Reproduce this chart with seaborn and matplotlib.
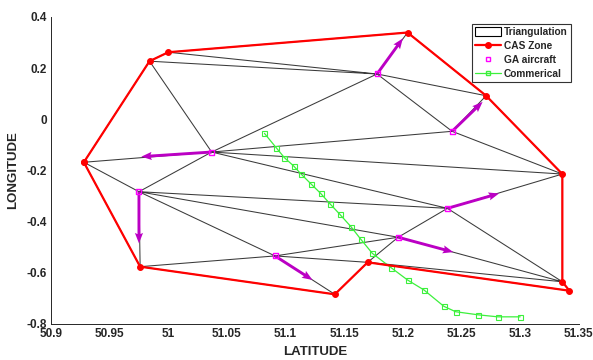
import matplotlib
matplotlib.use("Agg")
import matplotlib.pyplot as plt
import matplotlib.tri as mtri
from matplotlib.lines import Line2D
from matplotlib.patches import Patch
import seaborn as sns
import pandas as pd

# ---------------- data ----------------
# CAS zone boundary vertices (closed polygon)
cas_lat = [50.928, 50.984, 51.000, 51.204, 51.271, 51.336, 51.336, 51.342, 51.170, 51.142, 50.976]
cas_lon = [-0.168, 0.227, 0.262, 0.339, 0.092, -0.214, -0.635, -0.670, -0.559, -0.684, -0.576]

# GA aircraft positions and heading vectors
ga_lat = [51.037, 50.975, 51.091, 51.196, 51.238, 51.242, 51.178]
ga_lon = [-0.128, -0.283, -0.534, -0.461, -0.348, -0.047, 0.177]
ga_dlat = [-0.060, 0.000, 0.032, 0.047, 0.044, 0.026, 0.022]
ga_dlon = [-0.018, -0.202, -0.094, -0.058, 0.058, 0.115, 0.139]

# Commercial track
com_lat = [51.082, 51.092, 51.099, 51.107, 51.113, 51.122, 51.130, 51.138, 51.146, 51.156,
           51.164, 51.174, 51.190, 51.204, 51.218, 51.235, 51.245, 51.264, 51.281, 51.300]
com_lon = [-0.055, -0.111, -0.150, -0.183, -0.213, -0.254, -0.290, -0.331, -0.370, -0.421,
           -0.468, -0.524, -0.580, -0.628, -0.667, -0.731, -0.752, -0.764, -0.772, -0.772]

# triangulation connectivity (indices into CAS vertices followed by GA positions)
triangles = [(0, 1, 11), (1, 2, 17), (1, 11, 17), (2, 3, 17), (3, 4, 17), (17, 4, 16),
             (11, 17, 16), (16, 4, 5), (11, 16, 5), (11, 5, 15), (0, 11, 12), (11, 12, 15),
             (0, 12, 10), (12, 10, 13), (12, 13, 14), (12, 14, 15), (14, 15, 6), (15, 5, 6),
             (10, 9, 13), (13, 9, 8), (13, 8, 14), (8, 14, 6), (8, 6, 7)]

x_ticks = [50.9, 50.95, 51.0, 51.05, 51.1, 51.15, 51.2, 51.25, 51.3, 51.35]
x_tick_labels = ["50.9", "50.95", "51", "51.05", "51.1", "51.15", "51.2", "51.25", "51.3", "51.35"]
y_ticks = [-0.8, -0.6, -0.4, -0.2, 0.0, 0.2, 0.4]
y_tick_labels = ["-0.8", "-0.6", "-0.4", "-0.2", "0", "0.2", "0.4"]

legend_labels = ["Triangulation", "CAS Zone", "GA aircraft", "Commerical"]

# ---------------- style ----------------
sns.set_style("white")
plt.rcParams["font.family"] = ["Liberation Sans", "DejaVu Sans"]
plt.rcParams["font.weight"] = "bold"

RED = "#ff0000"
MAG = "#ff00ff"
ARROW = "#bb00c4"
GREEN = "#3cf03c"
TRI = "#3a3a3a"

fig = plt.figure(figsize=(5.93, 3.60), dpi=100)
ax = fig.add_axes([0.086, 0.1, 0.890, 0.853])

# triangulation
tri = mtri.Triangulation(cas_lat + ga_lat, cas_lon + ga_lon, triangles)
ax.triplot(tri, color=TRI, lw=0.75, zorder=1)

# CAS zone polygon
cas_df = pd.DataFrame({"lat": cas_lat + cas_lat[:1], "lon": cas_lon + cas_lon[:1]})
sns.lineplot(data=cas_df, x="lat", y="lon", sort=False, estimator=None, color=RED, lw=1.6,
             marker="o", markersize=4.2, markeredgecolor=RED, ax=ax, zorder=3)

# commercial track
com_df = pd.DataFrame({"lat": com_lat, "lon": com_lon})
sns.lineplot(data=com_df, x="lat", y="lon", sort=False, estimator=None, color=GREEN, lw=0.9,
             marker="s", markersize=3.6, markerfacecolor="none", markeredgecolor=GREEN,
             markeredgewidth=0.8, ax=ax, zorder=2)

# GA aircraft headings
ax.quiver(ga_lat, ga_lon, ga_dlat, ga_dlon, angles="xy", scale_units="xy", scale=1,
          color=ARROW, width=0.0055, headwidth=2.8, headlength=3.6, headaxislength=3.2, zorder=4)

# GA aircraft positions
ga_df = pd.DataFrame({"lat": ga_lat, "lon": ga_lon})
sns.scatterplot(data=ga_df, x="lat", y="lon", marker="s", s=13, facecolors="none",
                edgecolor=MAG, linewidth=1.0, ax=ax, zorder=5)

# axes
ax.set_xlim(50.9, 51.35)
ax.set_ylim(-0.8, 0.4)
ax.set_xticks(x_ticks)
ax.set_xticklabels(x_tick_labels)
ax.set_yticks(y_ticks)
ax.set_yticklabels(y_tick_labels)
ax.tick_params(direction="in", length=3.5, width=0.7, labelsize=8.5, pad=3, colors="#262626")
for lab in ax.get_xticklabels() + ax.get_yticklabels():
    lab.set_fontweight("bold")
ax.spines["top"].set_visible(False)
ax.spines["right"].set_visible(False)
for s in ("left", "bottom"):
    ax.spines[s].set_color("#262626")
    ax.spines[s].set_linewidth(0.7)
ax.set_xlabel("LATITUDE", fontsize=9.5, fontweight="bold", labelpad=4)
ax.set_ylabel("LONGITUDE", fontsize=9.5, fontweight="bold", labelpad=5)

# legend
handles = [
    Patch(facecolor="white", edgecolor="black", linewidth=0.8),
    Line2D([], [], color=RED, lw=1.6, marker="o", markersize=4),
    Line2D([], [], color=MAG, lw=0, marker="s", markersize=3.2, markerfacecolor="none", markeredgewidth=1.0),
    Line2D([], [], color=GREEN, lw=0.9, marker="s", markersize=3.2, markerfacecolor="none"),
]
leg = ax.legend(handles, legend_labels, loc="upper right", bbox_to_anchor=(0.985, 0.977),
                borderaxespad=0, fontsize=7.3, frameon=True, fancybox=False, framealpha=1,
                edgecolor="#333333", handlelength=2.5, handleheight=0.9, handletextpad=0.35,
                labelspacing=0.38, borderpad=0.3)
leg.get_frame().set_linewidth(0.8)
for t in leg.get_texts():
    t.set_fontweight("bold")

fig.savefig("out.png", dpi=100)
